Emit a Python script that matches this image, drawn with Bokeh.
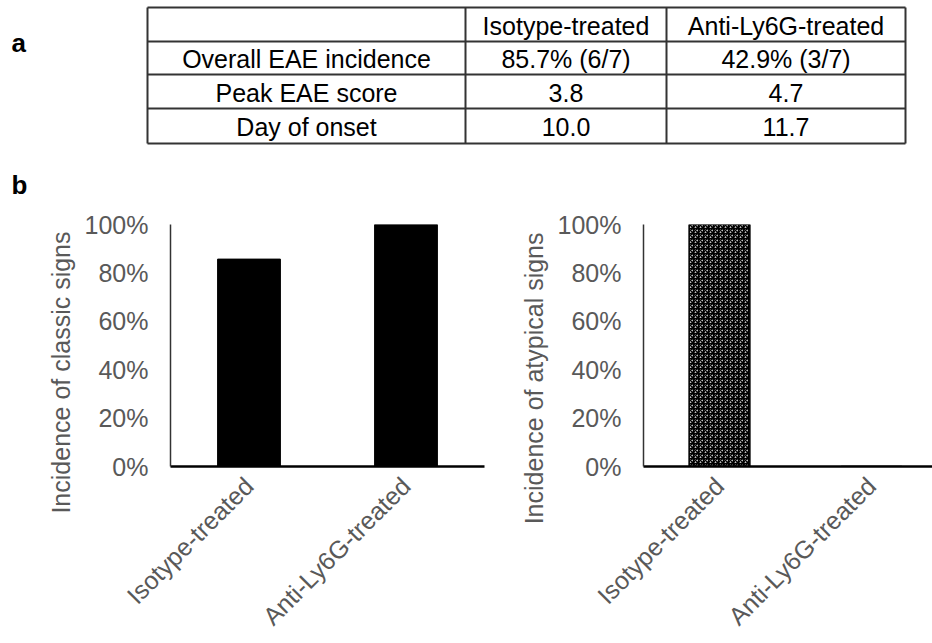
import math
from bokeh.plotting import figure
from bokeh.layouts import column, row
from bokeh.models import Range1d, FixedTicker, PrintfTickFormatter, Title
from bokeh.core.properties import value
from bokeh.embed import file_html
from bokeh.resources import INLINE

# ---------------- data ----------------
groups = ["Isotype-treated", "Anti-Ly6G-treated"]
table_rows = ["Overall EAE incidence", "Peak EAE score", "Day of onset"]
incidence_text = ["85.7% (6/7)", "42.9% (3/7)"]
peak_score = [3.8, 4.7]
onset_day = [10.0, 11.7]
classic_pct = [85.7, 100.0]
atypical_pct = [100.0, 0.0]
y_ticks = [0, 20, 40, 60, 80, 100]

FONT = "Liberation Sans"
GRAY = "#595959"

# ---------------- table (panel a) ----------------
TW, TH = 932, 200
col_edges = [147, 465, 666, 905]
row_edges = [7, 41, 74, 108, 143]

t = figure(width=TW, height=TH, output_backend="svg", toolbar_location=None,
           x_range=Range1d(0, TW), y_range=Range1d(TH, 0),
           x_axis_location=None, y_axis_location=None,
           min_border=0, outline_line_color=None)
t.grid.visible = False

t.segment(x0=col_edges, y0=[row_edges[0]] * len(col_edges),
          x1=col_edges, y1=[row_edges[-1]] * len(col_edges),
          line_color="#333333", line_width=2)
t.segment(x0=[col_edges[0]] * len(row_edges), y0=row_edges,
          x1=[col_edges[-1]] * len(row_edges), y1=row_edges,
          line_color="#333333", line_width=2)

cells_text, cells_x, cells_y = [], [], []
col_centers = [(col_edges[i] + col_edges[i + 1]) / 2 for i in range(3)]
row_centers = [(row_edges[i] + row_edges[i + 1]) / 2 + 1 for i in range(4)]
header = [""] + groups
body = [[table_rows[0]] + incidence_text,
        [table_rows[1]] + [f"{v:.1f}" for v in peak_score],
        [table_rows[2]] + [f"{v:.1f}" for v in onset_day]]
for r, line in enumerate([header] + body):
    for c, txt in enumerate(line):
        cells_text.append(txt)
        cells_x.append(col_centers[c])
        cells_y.append(row_centers[r])
t.text(x=cells_x, y=cells_y, text=cells_text, text_align="center",
       text_baseline="middle", text_font=value(FONT), text_font_size="25px",
       text_color="black")

t.text(x=[11, 11], y=[42, 184], text=["a", "b"], text_align="left",
       text_baseline="alphabetic", text_font=value(FONT),
       text_font_size="26px", text_font_style="bold", text_color="black")


# ---------------- bar charts (panel b) ----------------
CH = 643 - TH


def bar_chart(values, ylabel, width, left_border, right_border, px_per_cat,
              title_offset, hatch=False):
    frame_w = width - left_border - right_border
    p = figure(width=width, height=CH, output_backend="svg",
               toolbar_location=None,
               x_range=Range1d(0, frame_w / px_per_cat),
               y_range=Range1d(0, 100),
               min_border_left=left_border, min_border_right=right_border,
               min_border_top=24, min_border_bottom=CH - 24 - 243,
               outline_line_color=None)
    p.grid.visible = False
    xs = [i + 0.5 for i in range(len(groups))]
    if hatch:
        p.vbar(x=xs, top=values, width=0.4, fill_color="white",
               hatch_pattern="criss_cross", hatch_color="black",
               hatch_scale=5, hatch_weight=1.5,
               line_color="black", line_width=1.5)
    else:
        p.vbar(x=xs, top=values, width=0.4, fill_color="black",
               line_color="black", line_width=1)

    p.yaxis.ticker = FixedTicker(ticks=y_ticks)
    p.yaxis.formatter = PrintfTickFormatter(format="%d%%")
    p.yaxis.major_tick_out = 0
    p.yaxis.major_tick_in = 0
    p.yaxis.minor_tick_out = 0
    p.yaxis.minor_tick_in = 0
    p.yaxis.major_label_standoff = 22
    p.yaxis.axis_line_color = "#333333"
    p.yaxis.axis_line_width = 1.5
    p.yaxis.major_label_text_font = FONT
    p.yaxis.major_label_text_font_size = "25px"
    p.yaxis.major_label_text_color = GRAY

    p.xaxis.ticker = FixedTicker(ticks=xs)
    p.xaxis.major_label_overrides = {x: g for x, g in zip(xs, groups)}
    p.xaxis.major_tick_out = 0
    p.xaxis.major_tick_in = 0
    p.xaxis.minor_tick_out = 0
    p.xaxis.minor_tick_in = 0
    p.xaxis.major_label_orientation = math.pi / 4
    p.xaxis.major_label_standoff = 15
    p.xaxis.axis_line_color = "black"
    p.xaxis.axis_line_width = 2.5
    p.xaxis.major_label_text_font = FONT
    p.xaxis.major_label_text_font_size = "25px"
    p.xaxis.major_label_text_color = GRAY

    p.add_layout(Title(text=ylabel, align="right", offset=title_offset,
                       text_font=FONT, text_font_size="25px",
                       text_font_style="normal", text_color=GRAY,
                       standoff=14), "left")
    return p


left = bar_chart(classic_pct, "Incidence of classic signs", 500, 170, 16, 157,
                 7)
right = bar_chart(atypical_pct, "Incidence of atypical signs", 432, 143, 0, 152,
                  8, hatch=True)

layout = column(t, row(left, right))
open("out.html", "w").write(file_html(layout, INLINE))
